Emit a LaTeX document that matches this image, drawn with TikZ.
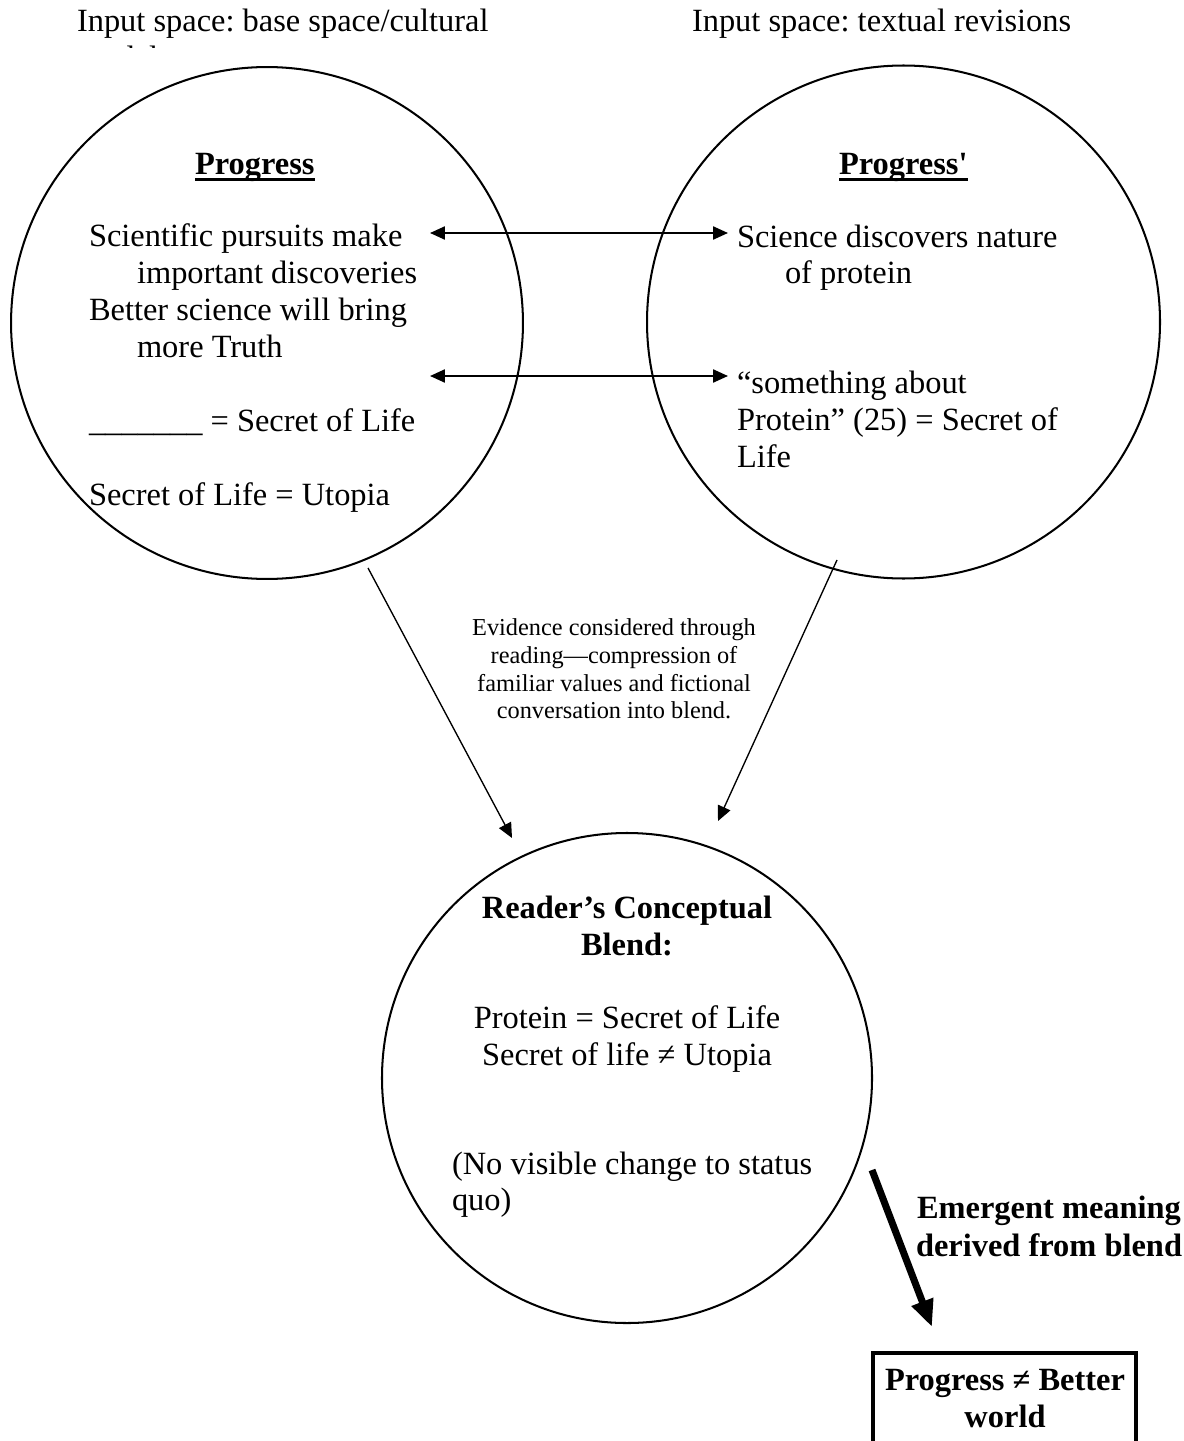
\documentclass[tikz,border=0pt]{standalone}
\usepackage{fontspec}
\setmainfont{Liberation Serif}[Ligatures=TeXOff]
\usetikzlibrary{arrows.meta}
\frenchspacing
\begin{document}
\begin{tikzpicture}[x=0.37pt,y=-0.37pt,
  txt/.style={inner sep=0pt,outer sep=0pt,anchor=base west,font=\fontsize{12}{13.8}\selectfont},
  ctxt/.style={txt,anchor=base},
  btxt/.style={txt,font=\fontsize{12}{13.8}\selectfont\bfseries},
  cbtxt/.style={btxt,anchor=base},
  small/.style={inner sep=0pt,outer sep=0pt,anchor=base,font=\fontsize{9}{10.4}\selectfont},
  circ/.style={draw,circle,line width=0.75pt,inner sep=0pt},
  dbl/.style={line width=0.75pt,{Triangle[length=5.5pt,width=4.8pt]}-{Triangle[length=5.5pt,width=4.8pt]}},
  thin/.style={line width=0.5pt,-{Triangle[length=5.5pt,width=5pt]}},
  thick/.style={line width=2.6pt,-{Triangle[length=10pt,width=8pt]}}]
\useasboundingbox (0,0) rectangle (1183,1441);
\clip (0,0) rectangle (1183,1441);

% top labels
\node[txt] (t1) at (77,32) {Input space: base space/cultural};
\begin{scope}
\clip (0,0) rectangle (600,48);
\node[txt] (t1b) at (77,69) {model};
\end{scope}
\node[txt] (t2) at (692,32) {Input space: textual revisions};

% circles
\node[circ,minimum size=189.4pt] (L) at (267,323) {};
\node[circ,minimum size=189.8pt] (R) at (903.5,322) {};
\node[circ,minimum size=181.3pt] (B) at (627,1078) {};

% headings
\node[btxt] (h1) at (195,175) {Progress};
\node[btxt] (h2) at (839,175) {Progress'};
\draw[line width=1.1pt] ([yshift=-1.7pt]h1.base west) -- ([yshift=-1.7pt]h1.base east);
\draw[line width=1.1pt] ([yshift=-1.7pt]h2.base west) -- ([yshift=-1.7pt]h2.base east);

% left circle text
\node[txt] (l1) at (89,246) {Scientific pursuits make};
\node[txt] (l2) at (137,283) {important discoveries};
\node[txt] (l3) at (89,320) {Better science will bring};
\node[txt] (l4) at (137,357) {more Truth};
\node[txt] (l5) at (89,431) {\_\_\_\_\_\_\_ = Secret of Life};
\node[txt] (l6) at (89,505) {Secret of Life = Utopia};

% right circle text
\node[txt] (r1) at (737,247) {Science discovers nature};
\node[txt] (r2) at (785,283) {of protein};
\node[txt] (r3) at (737,393) {“something about};
\node[txt] (r4) at (737,430) {Protein” (25) = Secret of};
\node[txt] (r5) at (737,467) {Life};

% double arrows
\coordinate (a1l) at (430,233);
\coordinate (a1r) at (728,233);
\coordinate (a2l) at (430,376);
\coordinate (a2r) at (728,376);
\draw[dbl] (a1l) -- (a1r);
\draw[dbl] (a2l) -- (a2r);

% diagonal arrows
\coordinate (d1s) at (368,568);
\coordinate (d1e) at (512,838);
\coordinate (d2s) at (837,560);
\coordinate (d2e) at (718,821);
\draw[thin] (d1s) -- (d1e);
\draw[thin] (d2s) -- (d2e);

% evidence text
\node[small] (e1) at (614,635) {Evidence considered through};
\node[small] (e2) at (614,663) {reading—compression of};
\node[small] (e3) at (614,691) {familiar values and fictional};
\node[small] (e4) at (614,718) {conversation into blend.};

% blend circle text
\node[cbtxt] (b1) at (627,918) {Reader’s Conceptual};
\node[cbtxt] (b2) at (627,955) {Blend:};
\node[ctxt] (b3) at (627,1028) {Protein = Secret of Life};
\node[ctxt] (b4) at (627,1065) {Secret of life ≠ Utopia};
\node[txt] (b5) at (452,1174) {(No visible change to status};
\node[txt] (b6) at (452,1210) {quo)};

% emergent arrow
\coordinate (ts) at (872,1170);
\coordinate (te) at (932,1327);
\draw[thick] (ts) -- (te);
\node[btxt] (m1) at (917,1218) {Emergent meaning};
\node[btxt] (m2) at (916,1256) {derived from blend};

% result box
\node[draw,line width=1.5pt,minimum width=97.3pt,minimum height=47.7pt,anchor=north,inner sep=0pt] (box) at (1004.5,1351) {};
\node[cbtxt] (x1) at (1005,1390) {Progress ≠ Better};
\node[cbtxt] (x2) at (1005,1427) {world};
\end{tikzpicture}
\end{document}
